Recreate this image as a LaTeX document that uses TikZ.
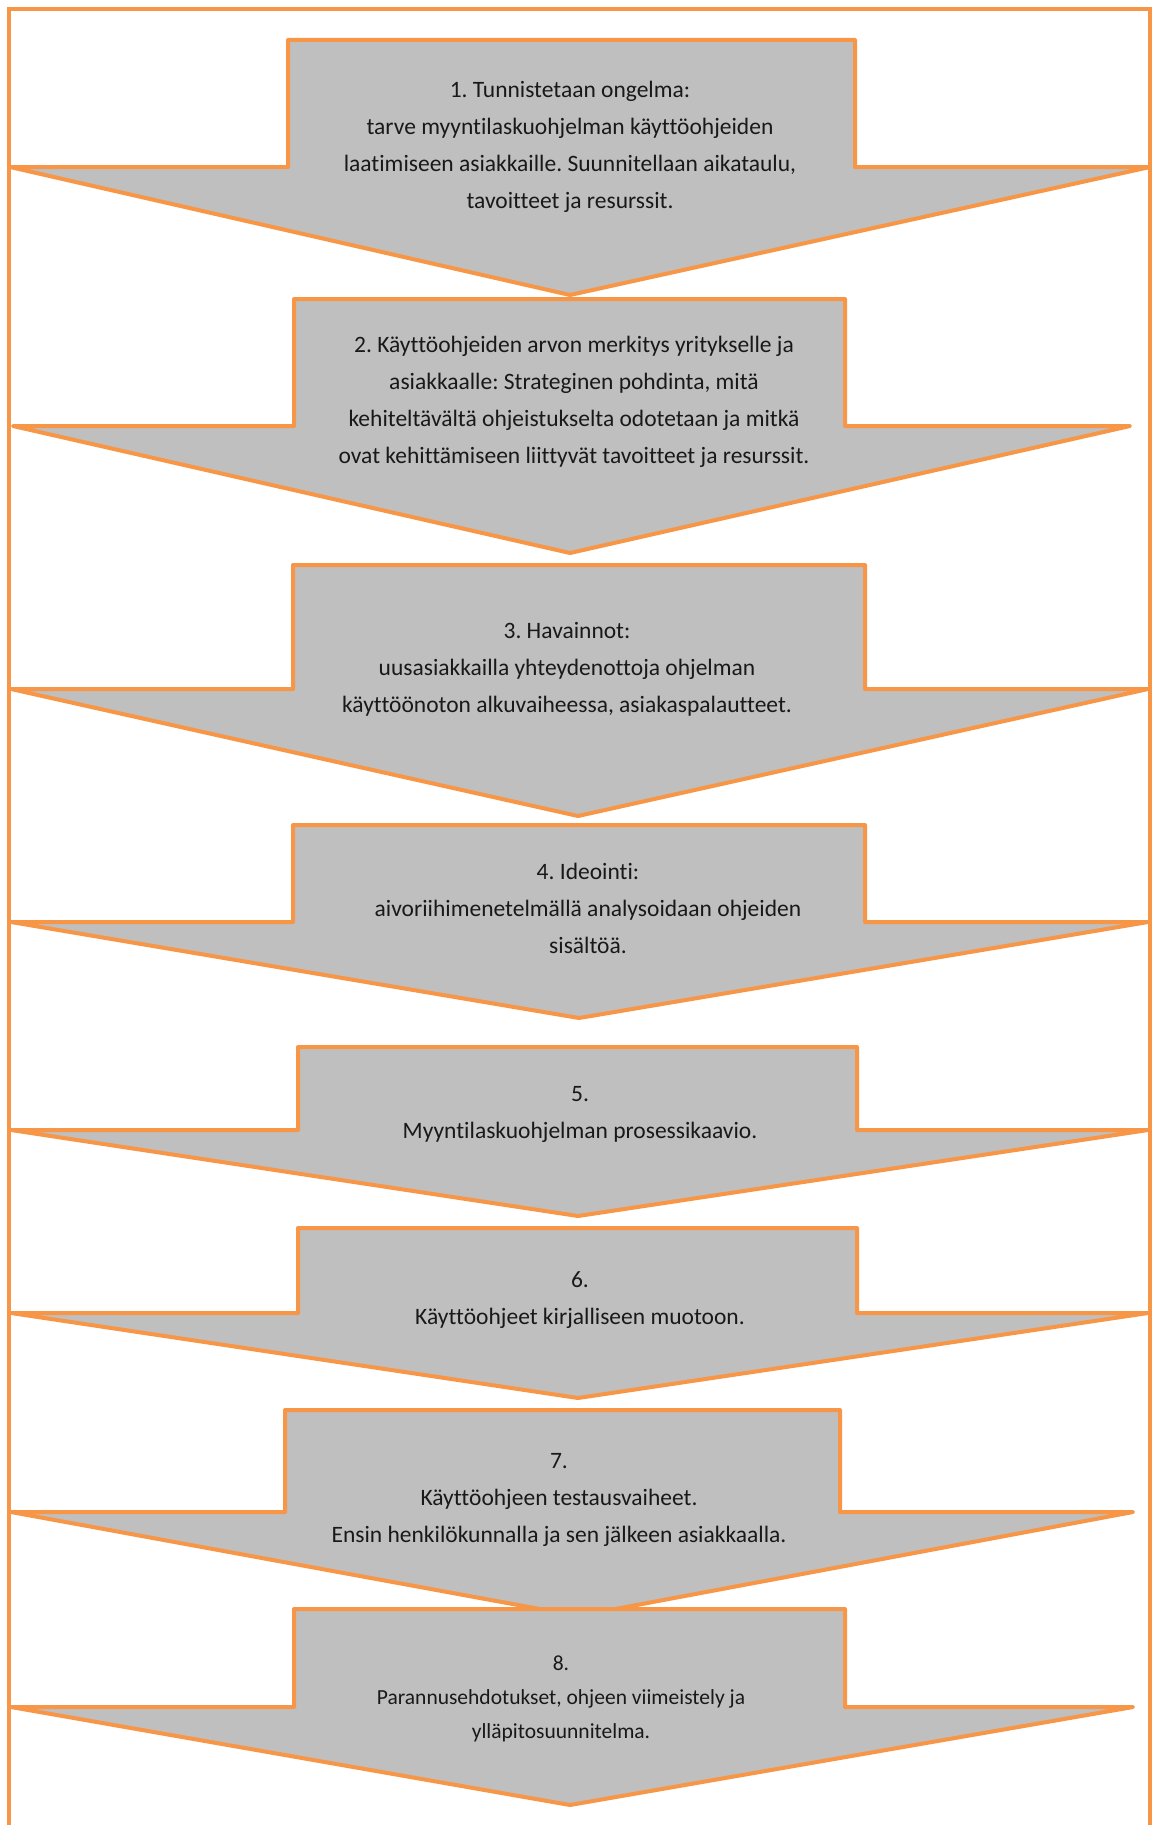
\documentclass[tikz,border=0pt]{standalone}
\usepackage{fontspec}
\setmainfont{Carlito}[Ligatures=NoCommon]
\definecolor{steporange}{HTML}{F79646}
\definecolor{stepgray}{HTML}{BFBFBF}
\frenchspacing

\begin{document}
\begin{tikzpicture}[x=0.5pt,y=-0.5pt,
  stepshape/.style={draw=steporange,fill=stepgray,line width=2pt,line join=round},
  steptext/.style={align=center,inner sep=0pt,text=black!90,font=\fontsize{11.75}{18.5}\selectfont}]
\useasboundingbox (0,0) rectangle (1154,1825);
% frame
\draw[steporange,line width=2pt] (9,1840) -- (9,9) -- (1150,9) -- (1150,1840);
% arrows
\draw[stepshape] (288,40) -- (855,40) -- (855,167) -- (1150,167) -- (570,295) -- (10,167) -- (288,167) -- cycle;
\draw[stepshape] (294,299) -- (845,299) -- (845,426) -- (1130,426) -- (570,553) -- (13,426) -- (294,426) -- cycle;
\draw[stepshape] (293,565) -- (865,565) -- (865,689) -- (1148,689) -- (578,816) -- (11,689) -- (293,689) -- cycle;
\draw[stepshape] (293,825) -- (865,825) -- (865,922) -- (1148,922) -- (579,1018) -- (11,922) -- (293,922) -- cycle;
\draw[stepshape] (298,1047) -- (857,1047) -- (857,1130) -- (1148,1130) -- (578,1216) -- (11,1130) -- (298,1130) -- cycle;
\draw[stepshape] (298,1228) -- (857,1228) -- (857,1313) -- (1148,1313) -- (578,1398) -- (11,1313) -- (298,1313) -- cycle;
\draw[stepshape] (285,1410) -- (840,1410) -- (840,1512) -- (1133,1512) -- (578,1616) -- (11,1512) -- (285,1512) -- cycle;
\draw[stepshape] (294,1609) -- (845,1609) -- (845,1707) -- (1133,1707) -- (570,1805) -- (11,1707) -- (294,1707) -- cycle;
% texts
\node[steptext] (s1) at (570,147) {1. Tunnistetaan ongelma:\\ tarve myyntilaskuohjelman käyttöohjeiden\\ laatimiseen asiakkaille. Suunnitellaan aikataulu,\\ tavoitteet ja resurssit.};
\node[steptext] (s2) at (574,402) {2. Käyttöohjeiden arvon merkitys yritykselle ja\\ asiakkaalle: Strateginen pohdinta, mitä\\ kehiteltävältä ohjeistukselta odotetaan ja mitkä\\ ovat kehittämiseen liittyvät tavoitteet ja resurssit.};
\node[steptext] (s3) at (567,669) {3. Havainnot:\\ uusasiakkailla yhteydenottoja ohjelman\\ käyttöönoton alkuvaiheessa, asiakaspalautteet.};
\node[steptext] (s4) at (588,908) {4. Ideointi:\\ aivoriihimenetelmällä analysoidaan ohjeiden\\ sisältöä.};
\node[steptext] (s5) at (580,1114) {5.\\ Myyntilaskuohjelman prosessikaavio.};
\node[steptext] (s6) at (580,1300) {6.\\ Käyttöohjeet kirjalliseen muotoon.};
\node[steptext] (s7) at (559,1500) {7.\\ Käyttöohjeen testausvaiheet.\\ Ensin henkilökunnalla ja sen jälkeen asiakkaalla.};
\node[steptext,font=\fontsize{10.75}{17}\selectfont] (s8) at (561,1699) {8.\\ Parannusehdotukset, ohjeen viimeistely ja\\ ylläpitosuunnitelma.};
\end{tikzpicture}
\end{document}
